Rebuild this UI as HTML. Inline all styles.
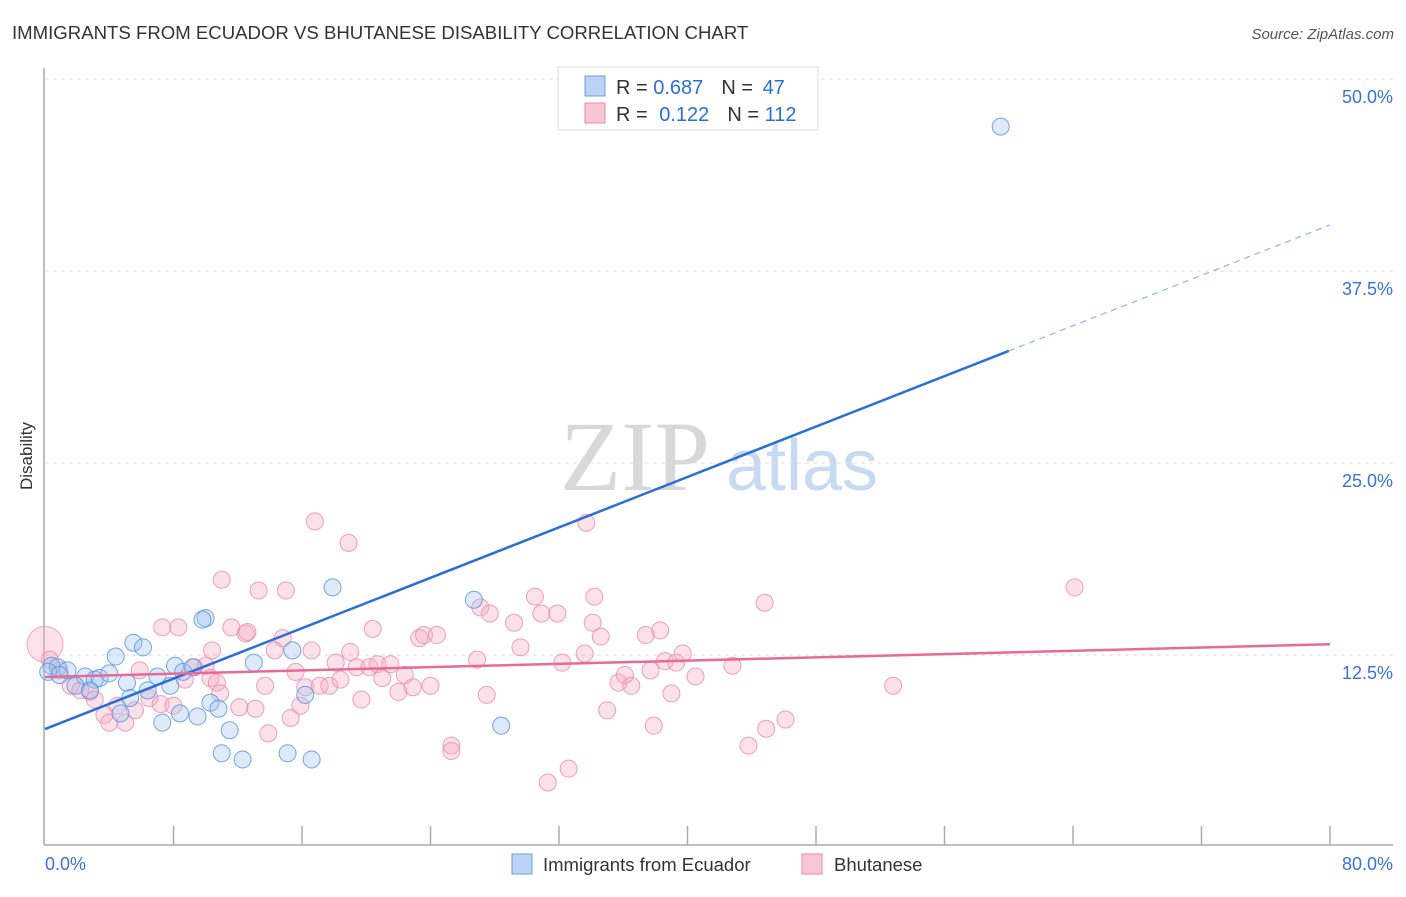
<!DOCTYPE html>
<html><head><meta charset="utf-8"><style>
body{margin:0;background:#fff;font-family:"Liberation Sans",sans-serif;}
svg text{font-family:"Liberation Sans",sans-serif;}
svg text.serif{font-family:"Liberation Serif",serif;}
</style></head><body>
<svg id="chart" width="1406" height="892" xmlns="http://www.w3.org/2000/svg">
<text x="12" y="39" font-size="18.6" fill="#333">IMMIGRANTS FROM ECUADOR VS BHUTANESE DISABILITY CORRELATION CHART</text>
<text x="1394" y="39" font-size="15" fill="#555" font-style="italic" text-anchor="end">Source: ZipAtlas.com</text>
<text x="32" y="456" font-size="17" fill="#333" transform="rotate(-90 32 456)" text-anchor="middle">Disability</text>
<g>
<text class="serif" x="635" y="490" font-size="100" fill="#d8d8d8" text-anchor="middle">ZIP</text>
<text x="802" y="490" font-size="72" fill="#c8daf2" text-anchor="middle">atlas</text>
</g>
<g id="grid"></g>
<g id="axes"></g>
<g id="pts"></g>
<g id="lines"></g>
<g>
<rect x="558" y="67" width="260" height="63" fill="#fff" stroke="#ddd"/>
<rect x="585" y="76" width="20" height="20" fill="#bcd3f5" stroke="#6a9fe0"/>
<rect x="585" y="103" width="20" height="20" fill="#f9c6d6" stroke="#e98aab"/>
<text x="616" y="94" font-size="20" fill="#333">R = <tspan fill="#2a6fd6">0.687</tspan><tspan dx="18">N = </tspan><tspan fill="#2a6fd6" dx="4">47</tspan></text>
<text x="616" y="121" font-size="20" fill="#333">R = <tspan fill="#2a6fd6" dx="6">0.122</tspan><tspan dx="18">N = </tspan><tspan fill="#2a6fd6">112</tspan></text>
</g>
<g>
<rect x="512" y="854" width="20" height="20" fill="#bcd3f5" stroke="#6a9fe0"/>
<text x="543" y="871" font-size="18.5" fill="#333">Immigrants from Ecuador</text>
<rect x="802" y="854" width="20" height="20" fill="#f9c6d6" stroke="#e98aab"/>
<text x="834" y="871" font-size="18.5" fill="#333">Bhutanese</text>
</g>
</svg>
<script>
const yTicks=[12.5,25.0,37.5,50.0];
const yTickLabels=["12.5%","25.0%","37.5%","50.0%"];
const xTickLabels=["0.0%","80.0%"];
const blueX=[59.5,0.4,0.8,1.4,0.2,0.9,2.5,3.1,1.9,2.8,3.4,4.4,4.0,5.5,6.1,5.1,5.3,4.7,6.4,7.0,7.8,8.1,8.6,9.2,10.0,9.8,7.3,8.4,9.5,10.3,10.8,11.5,11.0,12.3,13.0,15.1,15.4,16.2,16.6,17.9,26.7,28.4];
const blueY=[46.9,11.8,11.7,11.5,11.4,11.2,11.1,10.9,10.5,10.2,11.0,12.4,11.3,13.3,13.0,10.7,9.7,8.7,10.2,11.1,10.5,11.8,11.4,11.7,14.9,14.8,8.1,8.7,8.5,9.4,9.0,7.6,6.1,5.7,12.0,6.1,12.8,9.9,5.7,16.9,16.1,7.9];
const pinkX=[0.3,0.9,1.6,2.2,2.8,3.1,3.7,4.0,4.5,5.0,5.6,5.9,6.5,7.2,7.3,8.0,8.3,8.7,9.3,10.0,10.3,10.4,10.7,10.9,11.0,11.6,12.1,12.5,12.6,13.1,13.3,13.7,13.9,14.3,14.8,15.0,15.3,15.6,15.9,16.2,16.6,16.8,17.1,17.7,18.1,18.4,18.9,19.0,19.4,19.7,20.2,20.4,20.7,21.0,21.5,22.0,22.4,22.9,23.3,23.6,24.0,24.4,25.3,25.3,26.9,27.1,27.5,27.7,29.2,29.6,30.5,30.9,31.3,31.9,32.2,32.6,33.7,33.6,34.1,34.2,34.6,35.0,35.7,36.1,36.5,37.4,37.7,37.9,38.3,38.6,39.0,39.3,39.7,40.5,42.8,43.8,44.8,44.9,46.1,52.8,64.1];
const pinkY=[12.2,11.5,10.5,10.2,10.1,9.6,8.6,8.1,9.2,8.1,8.9,11.5,9.7,9.3,14.3,9.2,14.3,10.9,11.7,11.8,11.0,12.8,10.7,10.0,17.4,14.3,9.1,13.9,14.0,9.0,16.7,10.5,7.4,12.8,13.6,16.7,8.4,11.4,9.2,10.4,12.8,21.2,10.5,10.5,12.0,10.9,19.8,12.7,11.7,9.6,11.7,14.2,11.9,11.0,11.9,10.1,11.2,10.4,13.6,13.8,10.5,13.8,6.6,6.25,12.2,15.6,9.9,15.2,14.6,13.0,16.3,15.2,4.2,15.2,12.0,5.1,21.1,12.6,14.6,16.3,13.7,8.9,10.7,11.2,10.5,13.8,11.5,7.9,14.1,12.1,10.0,12.0,12.6,11.1,11.8,6.6,15.9,7.7,8.3,10.5,16.9];
const blueTrend=[7.68,40.5];
const pinkTrend=[11.07,13.2];
const NS="http://www.w3.org/2000/svg";
const X0=45,X1=1330,Y0=847,YS=192/12.5;
function sx(v){return X0+(v/80)*(X1-X0);}
function sy(v){return Y0-v*YS;}
function mk(t,a,p){const e=document.createElementNS(NS,t);for(const k in a)e.setAttribute(k,a[k]);p.appendChild(e);return e;}
const grid=document.getElementById('grid'),axes=document.getElementById('axes'),pts=document.getElementById('pts'),lines=document.getElementById('lines');
yTicks.forEach((v,i)=>{
 const g=mk('line',{x1:45,x2:1393,y1:sy(v),y2:sy(v),stroke:'#ddd','stroke-dasharray':'4,4'},grid);
 
 
 const t=mk('text',{x:1393,y:sy(v)+24,'font-size':18,fill:'#3a72d8','text-anchor':'end'},axes);
 t.textContent=yTickLabels[i];
 
 
});
const la=mk('line',{x1:44,x2:44,y1:68,y2:845,stroke:'#aaa','stroke-width':1.5},axes);


const ba=mk('line',{x1:44,x2:1393,y1:845,y2:845,stroke:'#aaa','stroke-width':1.5},axes);


for(let v=8;v<=80;v+=8){
 const tk=mk('line',{x1:sx(v),x2:sx(v),y1:826,y2:845,stroke:'#aaa','stroke-width':1.5},axes);
 
 
}
const xl0=mk('text',{x:45,y:870,'font-size':18,fill:'#3a72d8'},axes);xl0.textContent=xTickLabels[0];


const xl1=mk('text',{x:1393,y:870,'font-size':18,fill:'#3a72d8','text-anchor':'end'},axes);xl1.textContent=xTickLabels[1];


const big=mk('circle',{cx:sx(0),cy:sy(13.2),r:18,fill:'rgba(245,170,195,0.35)',stroke:'rgba(233,138,171,0.7)'},pts);


pinkX.forEach((x,i)=>{
 const c=mk('circle',{cx:sx(x),cy:sy(pinkY[i]),r:8.5,fill:'rgba(245,170,195,0.35)',stroke:'rgba(233,138,171,0.8)'},pts);
 
 
});
blueX.forEach((x,i)=>{
 const c=mk('circle',{cx:sx(x),cy:sy(blueY[i]),r:8.5,fill:'rgba(160,196,240,0.35)',stroke:'rgba(90,150,225,0.85)'},pts);
 
 
});
const bAt=v=>blueTrend[0]+(blueTrend[1]-blueTrend[0])*v/80;
const b1=mk('line',{x1:sx(0),y1:sy(bAt(0)),x2:sx(60),y2:sy(bAt(60)),stroke:'#2a6fd6','stroke-width':2.5},lines);


const b2=mk('line',{x1:sx(60),y1:sy(bAt(60)),x2:sx(80),y2:sy(bAt(80)),stroke:'#8fb2e8','stroke-width':1.2,'stroke-dasharray':'6,5'},lines);


const p1=mk('line',{x1:sx(0),y1:sy(pinkTrend[0]),x2:sx(80),y2:sy(pinkTrend[1]),stroke:'#e96a98','stroke-width':2.5},lines);


</script>
</body></html>
